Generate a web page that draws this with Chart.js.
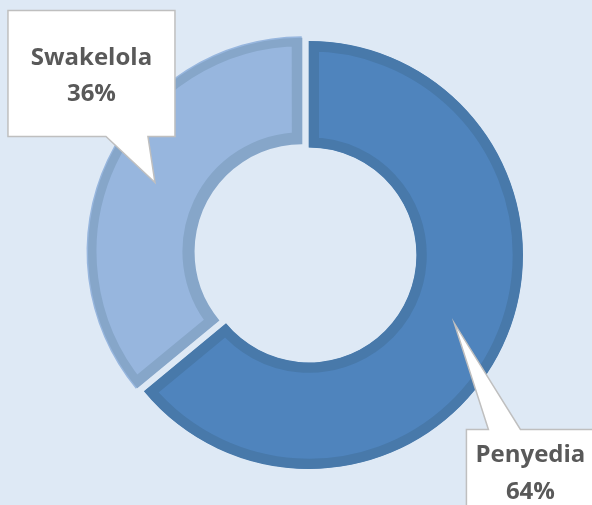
<!DOCTYPE html>
<html>
<head>
<meta charset="utf-8">
<script src="https://cdn.jsdelivr.net/npm/chart.js@4.4.1/dist/chart.umd.min.js"></script>
<style>
  html, body { margin: 0; padding: 0; background: #dee9f5; }
  #wrap { position: relative; width: 592px; height: 505px; overflow: hidden; }
</style>
</head>
<body>
<div id="wrap"><canvas id="c"></canvas></div>
<script>
// ---- data ----
const categories = ['Penyedia', 'Swakelola'];
const values = [64, 36];

// ---- styles ----
const fillColors = ['#4f84bd', '#97b6de'];
const borderColors = ['#4879aa', '#86a6c9'];
const explode = [0, 31];

// callout layout relative to the pointer tip (which comes from the arc geometry)
const calloutLayout = {
  Penyedia:  { box: [12, 106, 140, 190], base: [34, 66], side: 'top' },
  Swakelola: { box: [-147, -172, 20, -46], base: [-49, -7], side: 'bottom' }
};

const calloutPlugin = {
  id: 'callouts',
  afterDatasetsDraw(chart) {
    const ctx = chart.ctx;
    const meta = chart.getDatasetMeta(0);
    const total = values.reduce((a, b) => a + b, 0);
    meta.data.forEach((arc, i) => {
      const p = arc.getProps(['x', 'y', 'startAngle', 'endAngle', 'innerRadius', 'outerRadius'], true);
      const off = (arc.options.offset || 0) / 4;
      const circ = p.endAngle - p.startAngle;
      const fix = 1 - Math.sin(Math.min(Math.PI, circ));
      const mid = (p.startAngle + p.endAngle) / 2;
      const r = (p.innerRadius + p.outerRadius) / 2 + off * fix + off;
      const tx = p.x + Math.cos(mid) * r;
      const ty = p.y + Math.sin(mid) * r;
      const L = calloutLayout[categories[i]];
      const x0 = tx + L.box[0], y0 = ty + L.box[1], x1 = tx + L.box[2], y1 = ty + L.box[3];
      const b0 = tx + L.base[0], b1 = tx + L.base[1];
      ctx.save();
      ctx.beginPath();
      if (L.side === 'top') {
        ctx.moveTo(x0, y0); ctx.lineTo(b0, y0); ctx.lineTo(tx, ty); ctx.lineTo(b1, y0);
        ctx.lineTo(x1, y0); ctx.lineTo(x1, y1); ctx.lineTo(x0, y1);
      } else {
        ctx.moveTo(x0, y0); ctx.lineTo(x1, y0); ctx.lineTo(x1, y1); ctx.lineTo(b1, y1);
        ctx.lineTo(tx, ty); ctx.lineTo(b0, y1); ctx.lineTo(x0, y1);
      }
      ctx.closePath();
      ctx.fillStyle = '#ffffff';
      ctx.fill();
      ctx.lineWidth = 1.5;
      ctx.strokeStyle = '#bfbfbf';
      ctx.lineJoin = 'miter';
      ctx.stroke();

      const cx = (x0 + x1) / 2;
      const cy = (y0 + y1) / 2;
      ctx.fillStyle = '#595959';
      ctx.font = 'bold 24px "Open Sans", "DejaVu Sans", sans-serif';
      ctx.textAlign = 'center';
      ctx.textBaseline = 'alphabetic';
      const pct = Math.round(values[i] / total * 100) + '%';
      ctx.fillText(categories[i], cx, cy - 9);
      ctx.fillText(pct, cx, cy + 27.5);
      ctx.restore();
    });
  }
};

new Chart(document.getElementById('c'), {
  type: 'doughnut',
  data: {
    labels: categories,
    datasets: [{
      data: values,
      backgroundColor: fillColors,
      borderColor: borderColors,
      borderWidth: 10,
      borderAlign: 'inner',
      borderJoinStyle: 'miter',
      offset: explode,
      hoverOffset: 0
    }]
  },
  options: {
    responsive: true,
    maintainAspectRatio: false,
    devicePixelRatio: 1,
    animation: false,
    events: [],
    radius: 214,
    cutout: '50.2%',
    layout: { padding: { left: 26, top: 5, right: 0, bottom: 0 } },
    plugins: {
      legend: { display: false },
      tooltip: { enabled: false }
    }
  },
  plugins: [calloutPlugin]
});
</script>
</body>
</html>
